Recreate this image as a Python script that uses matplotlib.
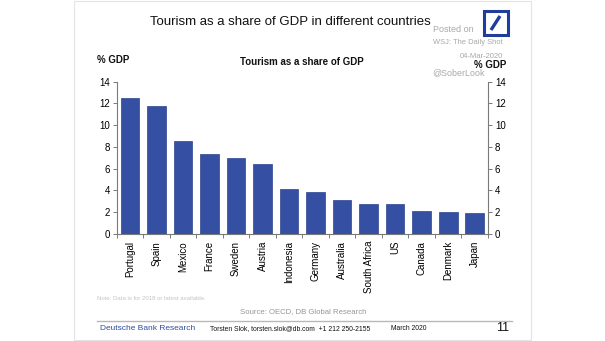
import matplotlib
matplotlib.use("Agg")
import matplotlib.pyplot as plt
from matplotlib.patches import Rectangle
from matplotlib.lines import Line2D
import numpy as np

plt.rcParams['font.family'] = ['Liberation Sans', 'DejaVu Sans']

countries = ["Portugal", "Spain", "Mexico", "France", "Sweden", "Austria", "Indonesia",
             "Germany", "Australia", "South Africa", "US", "Canada", "Denmark", "Japan"]
share = [12.5, 11.8, 8.57, 7.33, 6.95, 6.45, 4.1, 3.9, 3.15, 2.8, 2.8, 2.07, 2.0, 1.95]
yticks = [0, 2, 4, 6, 8, 10, 12, 14]

W, H = 605, 341
fig = plt.figure(figsize=(W / 100, H / 100), dpi=100)
fig.patch.set_facecolor("white")

def P(x, y):
    return x / W, 1 - y / H

# slide border
fig.add_artist(Rectangle(P(74, 340), (531 - 74) / W, 339 / H, transform=fig.transFigure,
                         fill=False, edgecolor="#e4e4e4", lw=0.8))

ax = fig.add_axes([116.7 / W, 1 - 234 / H, (488 - 116.7) / W, (234 - 81.7) / H])
x = np.arange(len(countries))
ax.bar(x, share, width=0.7, color="#3550A2", edgecolor="#2B438F", lw=0.5, zorder=3)
ax.set_xlim(-0.5, len(countries) - 0.5)
ax.set_ylim(0, 14)
for s in ["top"]:
    ax.spines[s].set_visible(False)
for s in ["left", "right", "bottom"]:
    ax.spines[s].set_color("#7a7a7a")
    ax.spines[s].set_linewidth(0.8)
ax.set_yticks(yticks)
ax.set_yticklabels([str(v) for v in yticks])
ax.tick_params(axis="y", which="both", left=True, right=True, labelleft=True, labelright=True,
               length=3, width=0.7, color="#7a7a7a", labelsize=7, pad=2)
ax.set_xticks(np.arange(-0.5, len(countries), 1.0))
ax.set_xticklabels([])
ax.set_xticks(x, minor=True)
ax.set_xticklabels(countries, minor=True, rotation=90, fontsize=7)
ax.tick_params(axis="x", which="major", length=3, width=0.7, color="#7a7a7a")
ax.tick_params(axis="x", which="minor", length=0, pad=5)
for lab in ax.get_xticklabels(minor=True):
    lab.set_va("top")

# titles and labels
fig.text(*P(290.5, 22), "Tourism as a share of GDP in different countries", fontsize=9.5,
         ha="center", va="center", color="#111111")
fig.text(*P(301.5, 62), "Tourism as a share of GDP", fontsize=7, fontweight="bold",
         ha="center", va="center", color="#111111")
fig.text(*P(97, 60), "% GDP", fontsize=7, fontweight="bold", ha="left", va="center", color="#111111")
fig.text(*P(506, 65), "% GDP", fontsize=7, fontweight="bold", ha="right", va="center", color="#111111")

# watermark
wm = "#a8a8a8"
fig.text(*P(433, 30), "Posted on", fontsize=6.5, ha="left", va="center", color=wm)
fig.text(*P(503, 43), "WSJ: The Daily Shot", fontsize=5.4, ha="right", va="center", color=wm)
fig.text(*P(503, 57), "04-Mar-2020", fontsize=5.5, ha="right", va="center", color=wm)
fig.text(*P(432, 73), "@SoberLook", fontsize=6.4, ha="left", va="center", color=wm)

# logo
fig.add_artist(Rectangle(P(484, 35), 24 / W, 24 / H, transform=fig.transFigure,
                         fill=False, edgecolor="#1F3E9C", lw=2.2))
fig.add_artist(Line2D([491 / W, 500 / W], [1 - 30 / H, 1 - 16 / H], transform=fig.transFigure,
                      color="#1F3E9C", lw=2.4, solid_capstyle="butt"))

# footer
fig.text(*P(97, 299), "Note: Data is for 2018 or latest available.", fontsize=4.3,
         ha="left", va="center", color="#c4c4c4")
fig.text(*P(303, 312), "Source: OECD, DB Global Research", fontsize=5.6,
         ha="center", va="center", color="#969696")
fig.add_artist(Line2D([97 / W, 512 / W], [1 - 321 / H, 1 - 321 / H], transform=fig.transFigure,
                      color="#b8b8b8", lw=1.0))
fig.text(*P(100, 329), "Deutsche Bank Research", fontsize=6, ha="left", va="center", color="#2F4EA0")
fig.text(*P(210, 329), "Torsten Slok, torsten.slok@db.com  +1 212 250-2155", fontsize=4.9,
         ha="left", va="center", color="#111111")
fig.text(*P(391, 329), "March 2020", fontsize=4.9, ha="left", va="center", color="#111111")
fig.text(*P(509, 328), "11", fontsize=9, ha="right", va="center", color="#111111")

fig.savefig("out.png", dpi=100, facecolor="white")
